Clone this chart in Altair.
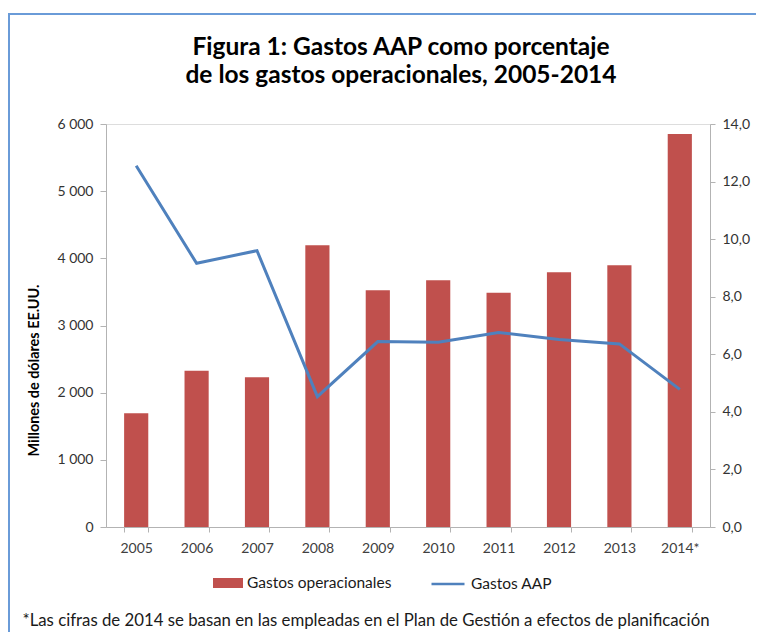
import altair as alt
import pandas as pd

# ---- data ----
years = ["2005", "2006", "2007", "2008", "2009", "2010", "2011", "2012", "2013", "2014*"]
gastos_operacionales = [1693, 2327, 2229, 4194, 3524, 3673, 3488, 3792, 3896, 5851]
gastos_aap_pct = [12.55, 9.16, 9.60, 4.53, 6.44, 6.42, 6.76, 6.51, 6.36, 4.78]
left_ticks = [0, 1000, 2000, 3000, 4000, 5000, 6000]
right_ticks = [0, 2, 4, 6, 8, 10, 12, 14]
series_bar = "Gastos operacionales"
series_line = "Gastos AAP"
title_lines = ["Figura 1: Gastos AAP como porcentaje", "de los gastos operacionales, 2005-2014"]
y_title = "Millones de dólares EE.UU."
footnote = "*Las cifras de 2014 se basan en las empleadas en el Plan de Gestión a efectos de planificación"

RED = "#C0504D"
BLUE = "#4F81BD"
AXIS = "#B3B3B3"
BORDER = "#6A9BD8"
FONT = "Lato"

df = pd.DataFrame({
    "year": years,
    "op": gastos_operacionales,
    "aap": gastos_aap_pct,
    "s_bar": series_bar,
    "s_line": series_line,
})

x_enc = alt.X(
    "year:N", sort=years,
    scale=alt.Scale(paddingInner=0.6, paddingOuter=0.3),
    axis=alt.Axis(
        title=footnote, titleX=-84, titleY=98, titleAlign="left",
        titleBaseline="alphabetic", titleFont=FONT, titleFontSize=16.8,
        titleFontWeight="normal", titleColor="#1a1a1a",
        labelAngle=0, labelFont=FONT, labelFontSize=14, labelColor="#404040",
        labelPadding=9, tickBand="extent", tickSize=5, tickColor=AXIS,
        domainColor=AXIS, grid=False,
    ),
)

bars = alt.Chart(df).mark_bar().encode(
    x=x_enc,
    y=alt.Y(
        "op:Q",
        scale=alt.Scale(domain=[0, 6000], nice=False),
        axis=alt.Axis(
            orient="left", values=left_ticks,
            labelExpr="replace(format(datum.value, ','), ',', ' ')",
            title=y_title, titleX=-68, titleY=246, titleAlign="center",
            titleBaseline="alphabetic", titleFont=FONT, titleFontSize=14.4,
            titleFontWeight="bold", titleColor="#000000",
            labelFont=FONT, labelFontSize=14, labelColor="#333333",
            labelPadding=7, tickSize=6, tickColor=AXIS, domainColor=AXIS, grid=False,
        ),
    ),
    color=alt.Color(
        "s_bar:N",
        scale=alt.Scale(range=[RED]),
        legend=alt.Legend(
            title=None, orient="none", legendX=107, legendY=444,
            symbolType="M-1,-0.333H1V0.333H-1Z", symbolSize=900,
            symbolStrokeWidth=0, symbolOpacity=1,
            labelFont=FONT, labelFontSize=15.5, labelColor="#1a1a1a", labelOffset=4,
        ),
    ),
)

line = alt.Chart(df).mark_line(strokeWidth=3).encode(
    x=x_enc,
    y=alt.Y(
        "aap:Q",
        scale=alt.Scale(domain=[0, 14], nice=False),
        axis=alt.Axis(
            orient="right", values=right_ticks,
            labelExpr="replace(format(datum.value, '.1f'), '.', ',')",
            title=None, labelFont=FONT, labelFontSize=14, labelColor="#333333",
            labelPadding=7, tickSize=5, tickColor=AXIS, domainColor=AXIS, grid=False,
        ),
    ),
    stroke=alt.Stroke(
        "s_line:N",
        scale=alt.Scale(range=[BLUE]),
        legend=alt.Legend(
            title=None, orient="none", legendX=324, legendY=442,
            symbolType="stroke", symbolSize=1089, symbolStrokeWidth=2.5,
            labelFont=FONT, labelFontSize=15.5, labelColor="#1a1a1a", labelOffset=5,
        ),
    ),
)

frame_df = pd.DataFrame({"k": [0]})
border_top = alt.Chart(frame_df).mark_rule(color=BORDER, strokeWidth=2).encode(
    x=alt.value(-98), x2=alt.value(650), y=alt.value(-110)
)
border_left = alt.Chart(frame_df).mark_rule(color=BORDER, strokeWidth=2).encode(
    x=alt.value(-97), y=alt.value(-111), y2=alt.value(508)
)

chart = alt.layer(bars, line, border_top, border_left).resolve_scale(
    y="independent", color="independent", stroke="independent"
).properties(
    width=604,
    height=403,
    autosize=alt.AutoSizeParams(type="none"),
    padding={"left": 98, "top": 116, "right": 46, "bottom": 105},
    title=alt.TitleParams(
        text=title_lines, font=FONT, fontSize=24.5, fontWeight="bold",
        color="#000000", lineHeight=28, anchor="middle", dx=-7, offset=28, dy=104,
    ),
).configure_view(stroke=None).configure(background="white")

chart.save("out.html", embed_options={"renderer": "svg", "actions": False})
